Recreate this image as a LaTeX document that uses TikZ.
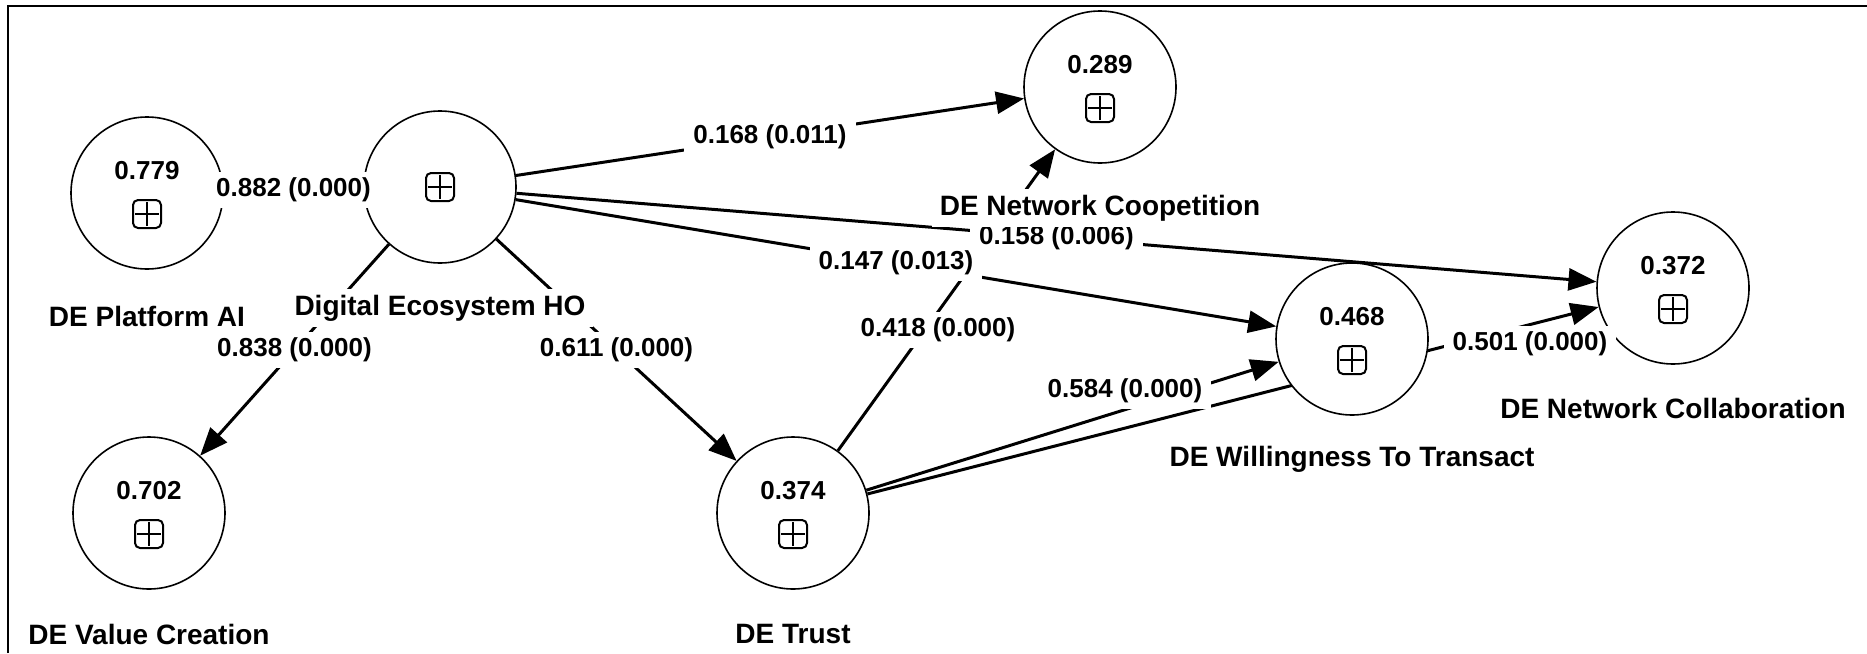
\documentclass[tikz,border=0pt]{standalone}
\usepackage{fontspec}
\setmainfont{Liberation Sans}
\usetikzlibrary{arrows.meta,calc}
\pgfdeclarelayer{wires}
\pgfsetlayers{wires,main}

\tikzset{
  construct/.style={circle, draw, fill=white, line width=0.8pt,
    minimum size=76pt, inner sep=0pt},
  coef/.style={fill=white, inner xsep=4.5pt, inner ysep=3pt,
    font=\fontsize{13pt}{15pt}\selectfont\bfseries},
  cname/.style={fill=white, inner xsep=4pt, inner ysep=3pt,
    font=\fontsize{14pt}{16pt}\selectfont\bfseries},
  rsq/.style={inner sep=0pt, font=\fontsize{13pt}{15pt}\selectfont\bfseries},
  link/.style={line width=1.5pt},
  effect/.style={link, -{Triangle[length=14pt,width=11pt]}},
  plusbox/.pic={
    \draw[line width=1pt, rounded corners=2.5pt]
      (-7pt,-7pt) rectangle (7pt,7pt);
    \draw[line width=1pt] (-6pt,0) -- (6pt,0) (0,-6pt) -- (0,6pt);
  }
}

\begin{document}
\begin{tikzpicture}[x=0.5pt, y=-0.5pt]
\useasboundingbox (0,0) rectangle (1867,653);

% latent constructs
\node[construct] (pai)    at (147,193)  {};
\node[construct] (ho)     at (440,187)  {};
\node[construct] (coop)   at (1100,87)  {};
\node[construct] (collab) at (1673,288) {};
\node[construct] (wtt)    at (1352,339) {};
\node[construct] (trust)  at (793,513)  {};
\node[construct] (vc)     at (149,513)  {};

% R-square values and indicator blocks
\foreach \c/\v in {pai/0.779, coop/0.289, collab/0.372, wtt/0.468, trust/0.374, vc/0.702}{
  \node[rsq] at ($(\c)+(0,-22)$) {\v};
  \pic at ($(\c)+(0,21)$) {plusbox};
}
\pic at (ho) {plusbox};

% frame and structural paths, kept beneath the constructs
\begin{pgfonlayer}{wires}
  \fill[white] (0,0) rectangle (1867,653);
  \draw[line width=1.2pt] (8,653) -- (8,6) -- (1867,6);
  \draw[effect] (ho) -- coordinate[pos=0.5] (m-pai) (pai);
  \draw[effect] (ho) -- coordinate[pos=0.5] (m-vc) (vc);
  \draw[effect] (ho) -- coordinate[pos=0.5] (m-trust) (trust);
  \draw[effect] (ho) -- coordinate[pos=0.5] (m-coop) (coop);
  \draw[effect] (ho) -- coordinate[pos=0.5] (m-collab) (collab);
  \draw[effect] (ho) -- coordinate[pos=0.5] (m-wtt) (wtt);
  \draw[effect] (trust) -- (coop);
  \draw[effect] (trust) -- (wtt);
  \draw[effect] (trust) -- (collab);
\end{pgfonlayer}

% path coefficients (p-values)
\node[coef] at (m-pai)    {0.882 (0.000)};
\node[coef] at (m-vc)     {0.838 (0.000)};
\node[coef] at (m-trust)  {0.611 (0.000)};
\node[coef] at (m-coop)   {0.168 (0.011)};
\node[coef] at (m-collab) {0.158 (0.006)};
\node[coef] at (m-wtt)    {0.147 (0.013)};
\node[coef] (l418) at (938,330)  {0.418 (0.000)};
\node[coef] (l584) at (1125,391) {0.584 (0.000)};
\node[coef] (l501) at (1530,344) {0.501 (0.000)};

% construct names
\node[cname] at ($(pai)+(0,123)$)    {DE Platform AI};
\node[cname] at ($(ho)+(0,121)$)     {Digital Ecosystem HO};
\node[cname] at ($(coop)+(0,121)$)   {DE Network Coopetition};
\node[cname] at ($(collab)+(0,120)$) {DE Network Collaboration};
\node[cname] at ($(wtt)+(0,120)$)    {DE Willingness To Transact};
\node[cname] at ($(trust)+(0,121)$)  {DE Trust};
\node[cname] at ($(vc)+(0,121)$)     {DE Value Creation};
\end{tikzpicture}
\end{document}
